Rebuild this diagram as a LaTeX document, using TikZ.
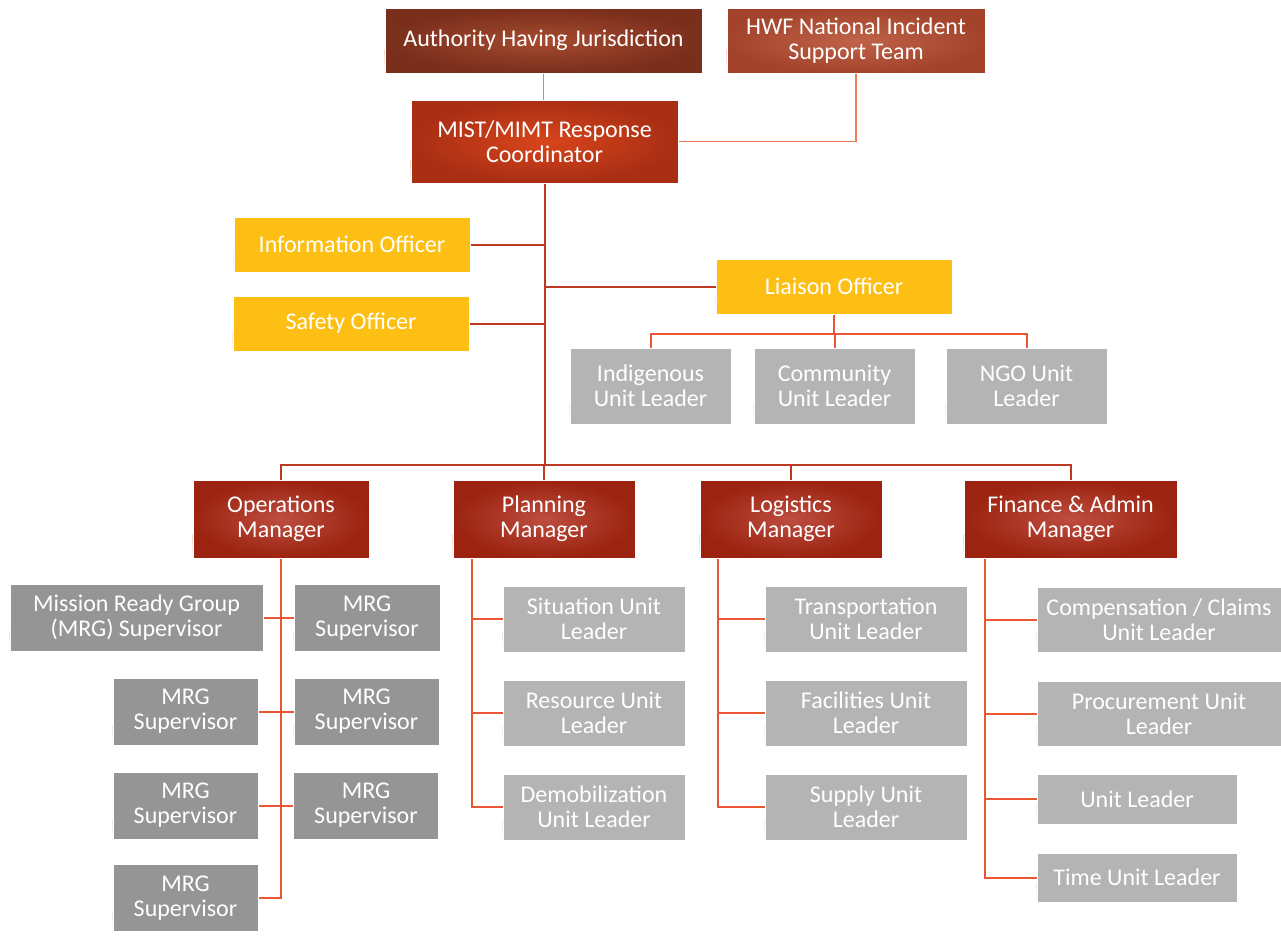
\documentclass[tikz,border=0pt]{standalone}
\usepackage{fontspec}
\setmainfont{Carlito}
\usetikzlibrary{calc,backgrounds}
\definecolor{ahjE}{HTML}{7A2E1C}\definecolor{ahjC}{HTML}{A64B2F}
\definecolor{hwfE}{HTML}{A3432B}\definecolor{hwfC}{HTML}{BF6349}
\definecolor{mistE}{HTML}{A82E14}\definecolor{mistC}{HTML}{D8451B}
\definecolor{mgrE}{HTML}{9B230F}\definecolor{mgrC}{HTML}{BE4D40}
\definecolor{yel}{HTML}{FDBF14}
\definecolor{lgray}{HTML}{B4B4B4}
\definecolor{dgray}{HTML}{959595}
\definecolor{mainln}{HTML}{BE3A22}
\definecolor{subln}{HTML}{EA5533}
\definecolor{topln}{HTML}{EC7B55}
\definecolor{redrefl}{HTML}{F0D0C8}
\definecolor{grayrefl}{HTML}{E6E6E6}
\definecolor{yelrefl}{HTML}{FFEBC0}
\tikzset{
  box/.style={rectangle, inner sep=0pt, text=white, align=center,
    font=\fontsize{24}{25}\selectfont, draw=white, line width=0.6pt},
  ahjbox/.style={box, inner color=ahjC, outer color=ahjE},
  hwfbox/.style={box, inner color=hwfC, outer color=hwfE},
  mistbox/.style={box, inner color=mistC, outer color=mistE},
  mgrbox/.style={box, inner color=mgrC, outer color=mgrE},
  yelbox/.style={box, fill=yel},
  lgbox/.style={box, fill=lgray},
  dgbox/.style={box, fill=dgray},
  mainc/.style={draw=mainln, line width=2pt},
  subc/.style={draw=subln, line width=2pt},
  topc/.style={draw=topln, line width=1.8pt},
}
\begin{document}
\begin{tikzpicture}[x=1pt,y=-1pt]
\useasboundingbox (0,0) rectangle (1281,938);
% top
\node[ahjbox, minimum width=317, minimum height=65] (ahj) at (543.5,40.5) {Authority Having Jurisdiction};
\node[hwfbox, minimum width=258, minimum height=65] (hwf) at (856,40.5) {HWF National Incident\\Support Team};
\node[mistbox, minimum width=267, minimum height=83] (mist) at (544.5,141.5) {MIST/MIMT Response\\Coordinator};
% officers
\node[yelbox, minimum width=236, minimum height=55] (info) at (352,244.5) {Information Officer};
\node[yelbox, minimum width=236, minimum height=55] (safety) at (351,323.5) {Safety Officer};
\node[yelbox, minimum width=236, minimum height=55] (liaison) at (834,286.5) {Liaison Officer};
% liaison units
\node[lgbox, minimum width=161, minimum height=76] (indig) at (650.5,386) {Indigenous\\Unit Leader};
\node[lgbox, minimum width=161, minimum height=76] (comm) at (834.5,386) {Community\\Unit Leader};
\node[lgbox, minimum width=161, minimum height=76] (ngo) at (1026.5,386) {NGO Unit\\Leader};
% managers
\node[mgrbox, minimum width=176, minimum height=78] (ops) at (281,519) {Operations\\Manager};
\node[mgrbox, minimum width=182, minimum height=78] (plan) at (544,519) {Planning\\Manager};
\node[mgrbox, minimum width=182, minimum height=78] (log) at (791,519) {Logistics\\Manager};
\node[mgrbox, minimum width=213, minimum height=78] (fin) at (1070.5,519) {Finance \& Admin\\Manager};
% operations
\node[dgbox, minimum width=253, minimum height=67] (mrg1) at (136.5,617.5) {Mission Ready Group\\(MRG) Supervisor};
\node[dgbox, minimum width=146, minimum height=67] (mrg2) at (367,618) {MRG\\Supervisor};
\node[dgbox, minimum width=145, minimum height=67] (mrg3) at (185.5,711.5) {MRG\\Supervisor};
\node[dgbox, minimum width=145, minimum height=67] (mrg4) at (366.5,711.5) {MRG\\Supervisor};
\node[dgbox, minimum width=145, minimum height=67] (mrg5) at (185.5,805.5) {MRG\\Supervisor};
\node[dgbox, minimum width=145, minimum height=67] (mrg6) at (366,805.5) {MRG\\Supervisor};
\node[dgbox, minimum width=145, minimum height=67] (mrg7) at (185.5,898) {MRG\\Supervisor};
% planning
\node[lgbox, minimum width=182, minimum height=66] (sit) at (594,619) {Situation Unit\\Leader};
\node[lgbox, minimum width=182, minimum height=66] (res) at (594,713) {Resource Unit\\Leader};
\node[lgbox, minimum width=182, minimum height=66] (dem) at (594,807) {Demobilization\\Unit Leader};
% logistics
\node[lgbox, minimum width=202, minimum height=66] (trans) at (866,619) {Transportation\\Unit Leader};
\node[lgbox, minimum width=202, minimum height=66] (fac) at (866,713) {Facilities Unit\\Leader};
\node[lgbox, minimum width=202, minimum height=66] (sup) at (866,807) {Supply Unit\\Leader};
% finance
\node[lgbox, minimum width=244, minimum height=65] (comp) at (1159,619.5) {Compensation / Claims\\Unit Leader};
\node[lgbox, minimum width=244, minimum height=65] (proc) at (1159,713.5) {Procurement Unit\\Leader};
\node[lgbox, minimum width=200, minimum height=50] (unit) at (1137,799) {Unit Leader};
\node[lgbox, minimum width=200, minimum height=49] (time) at (1137,877.5) {Time Unit Leader};

\begin{scope}[on background layer]
% reflections
\foreach \n/\c in {ahj/redrefl,hwf/redrefl,mist/redrefl,ops/redrefl,plan/redrefl,log/redrefl,fin/redrefl}
  \shade[top color=\c, bottom color=white] ([yshift=1]\n.south west) rectangle ([yshift=24]\n.south east);
\foreach \n in {info,safety,liaison}
  \shade[top color=yelrefl, bottom color=white] ([yshift=1]\n.south west) rectangle ([yshift=18]\n.south east);
\foreach \n in {indig,comm,ngo,mrg1,mrg2,mrg3,mrg4,mrg5,mrg6,mrg7,sit,res,dem,trans,fac,sup,comp,proc,unit,time}
  \shade[top color=grayrefl, bottom color=white] ([yshift=1]\n.south west) rectangle ([yshift=20]\n.south east);
% connectors
\coordinate (bar) at (544,465);
\draw[topc] (ahj.south) -- (ahj.south |- mist.north);
\draw[topc] (hwf.south) |- (mist.east);
\draw[mainc] (mist.south) -- (mist.south |- bar);
\draw[mainc] (info.east) -- (info.east -| mist.south);
\draw[mainc] (safety.east) -- (safety.east -| mist.south);
\draw[mainc] (liaison.west) -- (liaison.west -| mist.south);
\draw[mainc] (ops.north) -- (ops.north |- bar) -- (fin.north |- bar) -- (fin.north);
\draw[mainc] (plan.north) -- (plan.north |- bar);
\draw[mainc] (log.north) -- (log.north |- bar);
% liaison
\coordinate (lbar) at (834,334);
\draw[subc] (liaison.south) -- (liaison.south |- lbar);
\draw[subc] (indig.north) -- (indig.north |- lbar) -- (ngo.north |- lbar) -- (ngo.north);
\draw[subc] (comm.north) -- (comm.north |- lbar);
% operations
\draw[subc] (ops.south) |- (mrg7.east);
\foreach \n in {mrg1,mrg3,mrg5}
  \draw[subc] (\n.east) -- (\n.east -| ops.south);
\foreach \n in {mrg2,mrg4,mrg6}
  \draw[subc] (\n.west) -- (\n.west -| ops.south);
% planning
\coordinate (pt) at ([xshift=19]plan.south west);
\draw[subc] (pt) |- (dem.west);
\foreach \n in {sit,res} \draw[subc] (\n.west) -- (\n.west -| pt);
% logistics
\coordinate (lt) at ([xshift=18]log.south west);
\draw[subc] (lt) |- (sup.west);
\foreach \n in {trans,fac} \draw[subc] (\n.west) -- (\n.west -| lt);
% finance
\coordinate (ft) at ([xshift=21]fin.south west);
\draw[subc] (ft) |- (time.west);
\foreach \n in {comp,proc,unit} \draw[subc] (\n.west) -- (\n.west -| ft);
\end{scope}
\end{tikzpicture}
\end{document}
